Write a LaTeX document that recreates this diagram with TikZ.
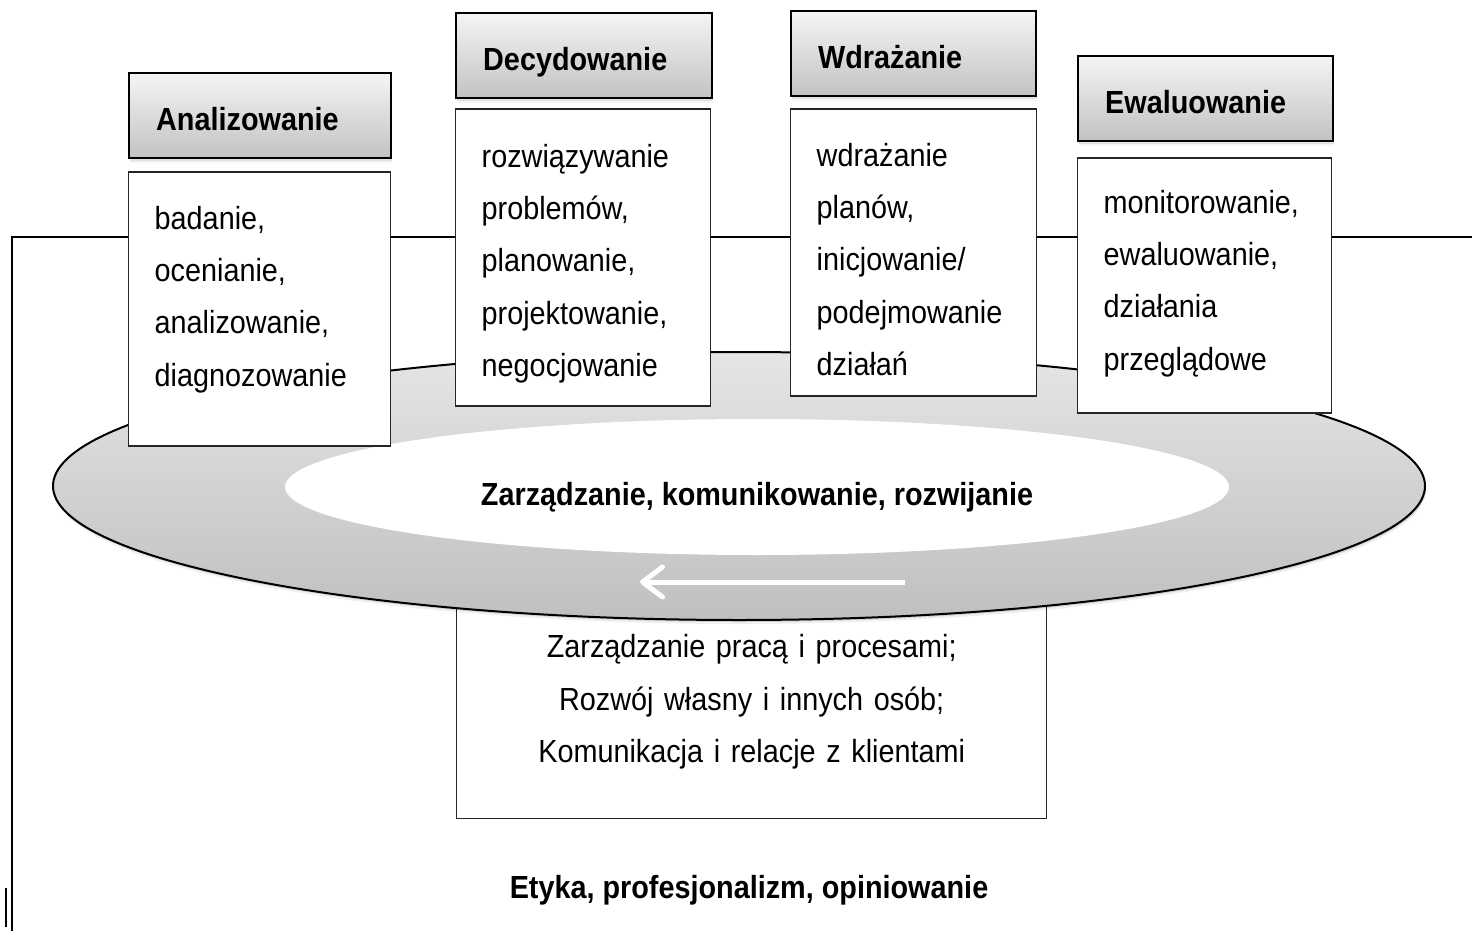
\documentclass[tikz,border=0pt]{standalone}
\usepackage{fontspec}
\setmainfont{Liberation Sans}[FakeStretch=0.9]
\usepackage{tikz}
\usetikzlibrary{arrows.meta,positioning,shapes.geometric,shadows}

\begin{document}
\begin{tikzpicture}[
  x=1pt, y=-1pt,
  phase/.style={
    draw=black,
    line width=2.4pt,
    top color=gray!8,
    bottom color=gray!48,
    minimum height=85pt,
    inner xsep=27pt,
    inner ysep=0pt,
    anchor=north west,
    align=left,
    text height=30pt,
    text depth=0pt,
    font=\fontsize{32}{38}\selectfont\bfseries,
    drop shadow={shadow xshift=1pt, shadow yshift=-3pt, opacity=0.16},
    drop shadow={shadow xshift=1pt, shadow yshift=-5pt, opacity=0.08}
  },
  tasklist/.style={
    draw=black!85,
    fill=white,
    line width=1.4pt,
    inner xsep=26pt,
    inner ysep=0pt,
    align=left,
    text height=0pt,
    font=\fontsize{32}{52.3}\selectfont
  },
  band/.style={
    ellipse,
    draw=black,
    line width=2pt,
    top color=gray!20,
    bottom color=gray!50,
    minimum width=1372pt,
    minimum height=268pt,
    drop shadow={shadow xshift=1pt, shadow yshift=-2pt, opacity=0.12, fill=black},
    drop shadow={shadow xshift=1pt, shadow yshift=-4pt, opacity=0.06, fill=black}
  },
  corefield/.style={
    ellipse,
    fill=white,
    inner sep=0pt,
    minimum width=944pt,
    minimum height=136pt,
    text height=36pt,
    text depth=0pt,
    font=\fontsize{32}{38}\selectfont\bfseries
  },
  flowarrow/.style={
    -{Straight Barb[length=20pt, width=30pt, round]},
    draw=white,
    line width=5pt
  },
  frameline/.style={
    draw=black,
    line width=1.8pt
  }
]
  \useasboundingbox (0,0) rectangle (1472,931);

  % Frame line behind everything
  \draw[frameline] (1472,237) -- (12,237) -- (12,931);
  \draw[line width=2.5pt] (6,888) -- (6,927);

  % Bottom box, top edge hidden under the ring
  \node[tasklist, align=center, text width=538pt, minimum height=218pt, text depth=104pt, anchor=north west] (mgmt) at (456,600) {
    Zarządzanie pracą i procesami;\\
    Rozwój własny i innych osób;\\
    Komunikacja i relacje z klientami
  };

  % --- RING ---
  \node[band] (band) at (739,486) {};
  \node[corefield] (core) at (757,487) {Zarządzanie, komunikowanie, rozwijanie};
  \coordinate (flowR) at (905,582);
  \coordinate (flowL) at (640,582);
  \draw[flowarrow] (flowR) -- (flowL);

  % --- PHASES ---
  \node[phase, text width=208pt] (p1) at (128,72) {Analizowanie};
  \node[tasklist, text width=210pt, minimum height=274pt, text depth=160pt, below=12pt of p1.south west, anchor=north west] (t1) {
    badanie,\\ocenianie,\\analizowanie,\\diagnozowanie
  };

  \node[phase, text width=202pt] (p2) at (455,12) {Decydowanie};
  \node[tasklist, text width=203pt, minimum height=297pt, text depth=181pt, below=9pt of p2.south west, anchor=north west] (t2) {
    rozwiązywanie\\problemów,\\planowanie,\\projektowanie,\\negocjowanie
  };

  \node[phase, text width=191pt] (p3) at (790,10) {Wdrażanie};
  \node[tasklist, text width=194pt, minimum height=287pt, text depth=173pt, below=11pt of p3.south west, anchor=north west] (t3) {
    wdrażanie\\planów,\\inicjowanie/\\podejmowanie\\działań
  };

  \node[phase, text width=201pt] (p4) at (1077,55) {Ewaluowanie};
  \node[tasklist, text width=202pt, minimum height=255pt, text depth=145pt, below=15pt of p4.south west, anchor=north west] (t4) {
    monitorowanie,\\ewaluowanie,\\działania\\przeglądowe
  };

  % Bottom label
  \node[font=\fontsize{32}{38}\selectfont\bfseries] (ethics) at (749,890) {Etyka, profesjonalizm, opiniowanie};

\end{tikzpicture}
\end{document}
